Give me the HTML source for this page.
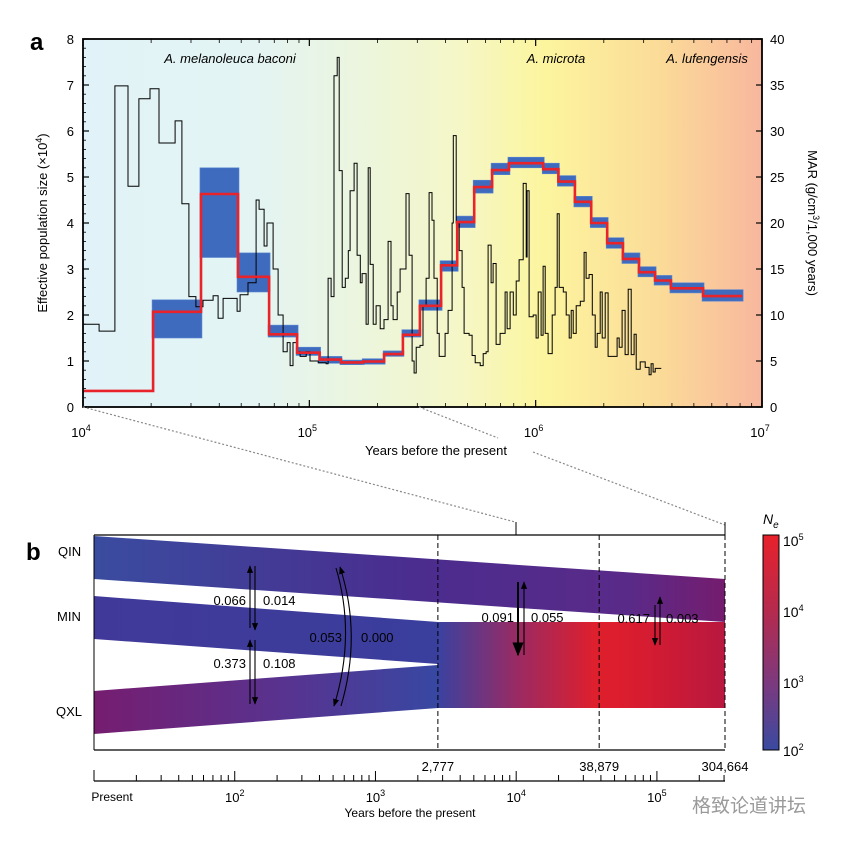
<!DOCTYPE html>
<html><head><meta charset="utf-8"><style>
html,body{margin:0;padding:0;background:#fff;}
svg text{font-family:"Liberation Sans","Noto Sans CJK SC",sans-serif;}
</style></head><body>
<svg id="fig" width="845" height="841" viewBox="0 0 845 841" xmlns="http://www.w3.org/2000/svg">
<defs>
<linearGradient id="bgGrad" x1="0" x2="1" y1="0" y2="0">
<stop offset="0" stop-color="#e1f3f8"/><stop offset="0.25" stop-color="#e3f4f3"/>
<stop offset="0.38" stop-color="#eaf5e2"/><stop offset="0.55" stop-color="#f5f7c8"/>
<stop offset="0.68" stop-color="#fcf59e"/><stop offset="0.85" stop-color="#fbdb98"/>
<stop offset="1" stop-color="#f8b79e"/></linearGradient>
<linearGradient id="qinGrad" x1="0" x2="1"><stop offset="0" stop-color="#3a4c9f"/><stop offset="0.5" stop-color="#4a2d8f"/><stop offset="0.85" stop-color="#5a2a88"/><stop offset="1" stop-color="#751c6e"/></linearGradient>
<linearGradient id="minGrad" x1="0" x2="1"><stop offset="0" stop-color="#41399a"/><stop offset="1" stop-color="#3a3e9c"/></linearGradient>
<linearGradient id="qxlGrad" x1="0" x2="1"><stop offset="0" stop-color="#761d70"/><stop offset="0.6" stop-color="#553592"/><stop offset="1" stop-color="#3748a2"/></linearGradient>
<linearGradient id="mergeGrad" x1="0" x2="1"><stop offset="0" stop-color="#3a42a0"/><stop offset="0.28" stop-color="#9b2a62"/><stop offset="0.55" stop-color="#df1f2c"/><stop offset="0.7" stop-color="#d81c30"/><stop offset="1" stop-color="#b8183f"/></linearGradient>
<linearGradient id="cbGrad" x1="0" x2="0" y1="0" y2="1"><stop offset="0" stop-color="#e8212b"/><stop offset="0.35" stop-color="#b62a4d"/><stop offset="0.7" stop-color="#7a3a80"/><stop offset="1" stop-color="#3a4aa0"/></linearGradient>
<marker id="ah" viewBox="0 0 10 10" refX="9" refY="5" markerWidth="7" markerHeight="7" orient="auto-start-reverse"><path d="M0,1 L10,5 L0,9 z" fill="#000"/></marker>
</defs>

<!-- Panel a -->
<rect x="83" y="39" width="679" height="368" fill="url(#bgGrad)"/>
<g id="bandG"></g>
<path id="marLine" fill="none" stroke="#000" stroke-width="1"/>
<path id="neLine" fill="none" stroke="#e8232a" stroke-width="2.6"/>
<rect x="83" y="39" width="679" height="368" fill="none" stroke="#000" stroke-width="1.8"/>
<g id="axesA"></g>

<text x="30" y="50" font-size="24" font-weight="bold">a</text>
<text x="230" y="63" font-size="13" font-style="italic" text-anchor="middle">A. melanoleuca baconi</text>
<text x="556" y="63" font-size="13" font-style="italic" text-anchor="middle">A. microta</text>
<text x="707" y="63" font-size="13" font-style="italic" text-anchor="middle">A. lufengensis</text>
<text transform="translate(47,223) rotate(-90)" font-size="13" text-anchor="middle">Effective population size (×10<tspan font-size="9" dy="-5">4</tspan><tspan dy="5">)</tspan></text>
<text transform="translate(808,223) rotate(90)" font-size="13" text-anchor="middle">MAR (g/cm<tspan font-size="9" dy="-5">3</tspan><tspan dy="5">/1,000 years)</tspan></text>
<text x="436" y="455" font-size="13" text-anchor="middle">Years before the present</text>

<line x1="83" y1="407" x2="515" y2="522" stroke="#888" stroke-width="1.2" stroke-dasharray="2,2"/>
<line x1="419" y1="407" x2="498" y2="438" stroke="#888" stroke-width="1.2" stroke-dasharray="2,2"/>
<line x1="533" y1="452" x2="725" y2="525" stroke="#888" stroke-width="1.2" stroke-dasharray="2,2"/>

<!-- Panel b -->
<text x="26" y="560" font-size="24" font-weight="bold">b</text>
<polygon points="94,536 725,579 725,622 94,579" fill="url(#qinGrad)"/>
<polygon points="94,596 438,622 438,664 94,639" fill="url(#minGrad)"/>
<polygon points="94,691 438,665 438,708 94,734" fill="url(#qxlGrad)"/>
<rect x="438" y="622" width="287" height="86" fill="url(#mergeGrad)"/>
<line x1="94" y1="535" x2="725" y2="535" stroke="#000" stroke-width="1.3"/>
<line x1="94" y1="750" x2="725" y2="750" stroke="#000" stroke-width="1.3"/>
<line x1="94" y1="535" x2="94" y2="750" stroke="#000" stroke-width="1"/>
<line x1="516" y1="522" x2="516" y2="535" stroke="#000" stroke-width="1"/>
<line x1="725" y1="522" x2="725" y2="535" stroke="#000" stroke-width="1"/>
<g id="splitG"></g>
<text x="58" y="556" font-size="13">QIN</text>
<text x="57" y="621" font-size="13">MIN</text>
<text x="56" y="716" font-size="13">QXL</text>

<g stroke="#000" stroke-width="1.1" fill="none">
<line x1="250" y1="628" x2="250" y2="566" marker-end="url(#ah)"/><line x1="255" y1="566" x2="255" y2="630" marker-end="url(#ah)"/>
<line x1="250" y1="704" x2="250" y2="640" marker-end="url(#ah)"/><line x1="255" y1="640" x2="255" y2="704" marker-end="url(#ah)"/>
<path d="M336,568 Q356,635 334,706" marker-end="url(#ah)"/><path d="M341,706 Q362,635 340,567" marker-end="url(#ah)"/>
<line x1="518" y1="582" x2="518" y2="655" stroke-width="2" marker-end="url(#ah)"/><line x1="524" y1="655" x2="524" y2="582" marker-end="url(#ah)"/>
<line x1="655" y1="605" x2="655" y2="645" marker-end="url(#ah)"/><line x1="660" y1="645" x2="660" y2="597" marker-end="url(#ah)"/>
</g>
<g font-size="13">
<text x="246" y="605" text-anchor="end">0.066</text><text x="263" y="605">0.014</text>
<text x="246" y="668" text-anchor="end">0.373</text><text x="263" y="668">0.108</text>
<text x="342" y="642" text-anchor="end">0.053</text><text x="361" y="642">0.000</text>
<text x="514" y="622" text-anchor="end">0.091</text><text x="531" y="622">0.055</text>
<text x="650" y="623" text-anchor="end">0.617</text><text x="666" y="623">0.003</text>
</g>
<g id="axesB"></g>
<text x="410" y="817" font-size="12" text-anchor="middle">Years before the present</text>

<rect x="763" y="535" width="16" height="215" fill="url(#cbGrad)" stroke="#000" stroke-width="1"/>
<text x="763" y="524" font-size="14" font-style="italic">N<tspan font-size="10" dy="4">e</tspan></text>
<g font-size="14">
<text x="783" y="546">10<tspan font-size="9" dy="-6">5</tspan></text>
<text x="783" y="617">10<tspan font-size="9" dy="-6">4</tspan></text>
<text x="783" y="688">10<tspan font-size="9" dy="-6">3</tspan></text>
<text x="783" y="756">10<tspan font-size="9" dy="-6">2</tspan></text>
</g>
<text x="692" y="812" font-size="19" fill="#9a9a9a">格致论道讲坛</text>
</svg>
<script>
// ---- Panel a data ----
const neStartYears = [1e4,20400,33200,48400,66400,88300,111000,138000,173000,214000,259000,308000,382000,450000,535000,642000,762000,1.08e6,1.26e6,1.49e6,1.76e6,2.07e6,2.43e6,2.86e6,3.37e6,3.96e6,5.49e6];
const neEndYear = 8.17e6;
const neValues = [0.35,2.07,4.63,2.83,1.58,1.18,1.03,0.97,0.99,1.15,1.57,2.2,3.08,4.02,4.78,5.15,5.3,5.17,4.9,4.46,4.0,3.56,3.22,2.93,2.75,2.58,2.41];
const neBandLo = [0.35,1.5,3.25,2.5,1.52,1.12,0.95,0.92,0.93,1.1,1.52,2.1,2.95,3.9,4.65,5.05,5.2,5.07,4.8,4.35,3.9,3.45,3.12,2.83,2.65,2.48,2.3];
const neBandHi = [0.35,2.33,5.2,3.35,1.78,1.3,1.1,1.02,1.05,1.22,1.68,2.33,3.18,4.15,4.93,5.3,5.43,5.3,5.03,4.58,4.12,3.68,3.35,3.05,2.86,2.7,2.55];
const marLogYears = [4.000,4.071,4.141,4.199,4.247,4.296,4.336,4.407,4.437,4.468,4.499,4.530,4.575,4.597,4.619,4.681,4.694,4.729,4.765,4.778,4.800,4.813,4.840,4.862,4.884,4.902,4.915,4.928,4.946,4.959,4.986,5.003,5.039,5.074,5.083,5.096,5.109,5.123,5.132,5.145,5.159,5.172,5.180,5.198,5.211,5.225,5.233,5.251,5.260,5.269,5.282,5.295,5.313,5.330,5.348,5.361,5.370,5.388,5.401,5.427,5.441,5.454,5.463,5.472,5.489,5.502,5.516,5.529,5.542,5.551,5.565,5.574,5.600,5.613,5.631,5.636,5.649,5.662,5.675,5.684,5.706,5.719,5.733,5.755,5.768,5.781,5.790,5.803,5.812,5.825,5.843,5.865,5.874,5.887,5.901,5.914,5.927,5.945,5.958,5.962,5.971,5.989,6.002,6.011,6.024,6.033,6.042,6.055,6.073,6.086,6.095,6.104,6.122,6.135,6.148,6.157,6.166,6.179,6.197,6.214,6.223,6.236,6.250,6.263,6.272,6.285,6.294,6.307,6.320,6.360,6.369,6.382,6.395,6.409,6.422,6.435,6.444,6.462,6.484,6.501,6.510,6.519,6.528];
const marValues = [9,8.25,34.9,24,33.5,34.6,28.7,31.1,22.1,12,10.9,11.6,12.1,9.65,11.8,10.4,12.2,13.5,22.5,21.5,17.5,20,15,10,6,7,4.5,7,6,5.5,6,5,4.8,4.7,14,12,36,38,25.7,13,14,17,23.5,26.5,16.5,13.5,14.5,9,26,15.5,9,11,8.5,9.5,18,11,9.5,12.5,15,23.2,16.5,5,3.7,6.5,6.7,11,14,23.3,20.3,14,8,5.5,8,10.5,20,29.5,20,17,13,8,7.8,5.6,4.8,4.5,5.8,6,17.6,13.5,15.6,6.8,8,12.5,8.5,12.5,10,13.7,16,24.3,16.3,23.5,9.8,10,7.5,12.5,7.8,15.3,8,5.8,10,13,21,13,12.5,10,7.5,10.5,8,11,11.5,16.8,14,14.4,10,6.5,8,12.5,7.5,12.4,5.5,7.5,6.5,10.5,5.7,12.8,5.7,7.9,4.1,4.9,4.3,3.5,4.7,3.8,4.2];
const marEndLogYear = 6.555;
const leftTicks = [0,1,2,3,4,5,6,7,8];
const rightTicks = [0,5,10,15,20,25,30,35,40];
const xDecadesA = [4,5,6,7];
// ---- Panel b data ----
const splitYears = [2777,38879,304664];
const splitLabels = ["2,777","38,879","304,664"];
const xDecadesB = [2,3,4,5];

const NS="http://www.w3.org/2000/svg";
function mk(tag,attrs,parent){const e=document.createElementNS(NS,tag);for(const k in attrs)e.setAttribute(k,attrs[k]);parent.appendChild(e);return e;}
const xA = ly => 83 + (ly-4)*679/3;
const xAy = y => xA(Math.log10(y));
const yNe = v => 407 - v*46;
const yMar = v => 407 - v*368/40;
const xB = y => 94 + (Math.log10(y)-1)*(725-94)/(Math.log10(304664)-1);

// band
const bandG=document.getElementById('bandG');
neValues.forEach((v,i)=>{
  const x0=xAy(neStartYears[i]), x1=xAy(i+1<neStartYears.length?neStartYears[i+1]:neEndYear);
  if(neBandHi[i]-neBandLo[i]<0.01) return;
  const r=mk('rect',{x:x0-1,y:yNe(neBandHi[i]),width:x1-x0+2,height:yNe(neBandLo[i])-yNe(neBandHi[i]),fill:'#3f6bbf',stroke:'#5a86d0','stroke-width':0.6},bandG);
  
  
});
// red line
let d='';
neValues.forEach((v,i)=>{
  const x0=xAy(neStartYears[i]), x1=xAy(i+1<neStartYears.length?neStartYears[i+1]:neEndYear);
  d+=(i===0?'M':'L')+x0.toFixed(1)+','+yNe(v).toFixed(1)+' L'+x1.toFixed(1)+','+yNe(v).toFixed(1)+' ';
});
document.getElementById('neLine').setAttribute('d',d);
// MAR line
let m='';
marValues.forEach((v,i)=>{
  const x0=xA(marLogYears[i]), x1=xA(i+1<marLogYears.length?marLogYears[i+1]:marEndLogYear);
  m+=(i===0?'M':'L')+x0.toFixed(1)+','+yMar(v).toFixed(1)+' L'+x1.toFixed(1)+','+yMar(v).toFixed(1)+' ';
});
document.getElementById('marLine').setAttribute('d',m);

// axes a
const ax=document.getElementById('axesA');
leftTicks.forEach(t=>{
  const y=yNe(t);
  const l=mk('line',{x1:83,x2:89,y1:y,y2:y,stroke:'#000','stroke-width':1.2},ax);
  
  
  const tx=mk('text',{x:74,y:y+5,'font-size':13,'text-anchor':'end'},ax);tx.textContent=t;
  
  
  if(t<8) for(let k=1;k<5;k++){mk('line',{x1:83,x2:86,y1:yNe(t+k*0.2),y2:yNe(t+k*0.2),stroke:'#000','stroke-width':0.8},ax);}
});
rightTicks.forEach(t=>{
  const y=yMar(t);
  const l=mk('line',{x1:756,x2:762,y1:y,y2:y,stroke:'#000','stroke-width':1.2},ax);
  
  
  const tx=mk('text',{x:770,y:y+5,'font-size':13},ax);tx.textContent=t;
  
  
});
xDecadesA.forEach(dd=>{
  const x=xA(dd);
  mk('line',{x1:x,x2:x,y1:407,y2:400,stroke:'#000','stroke-width':1.2},ax);
  mk('line',{x1:x,x2:x,y1:39,y2:46,stroke:'#000','stroke-width':1.2},ax);
  const tx=mk('text',{x:x-2,y:437,'font-size':13,'text-anchor':'middle'},ax);
  
  
  tx.innerHTML='10<tspan font-size="9" dy="-6">'+dd+'</tspan>';
  if(dd<7) for(let k=2;k<10;k++){const xm=xA(dd+Math.log10(k));
    mk('line',{x1:xm,x2:xm,y1:407,y2:403,stroke:'#000','stroke-width':0.8},ax);
    mk('line',{x1:xm,x2:xm,y1:39,y2:43,stroke:'#000','stroke-width':0.8},ax);}
});

// panel b splits
const sg=document.getElementById('splitG');
splitYears.forEach((s,i)=>{
  const x=xB(s);
  const l=mk('line',{x1:x,x2:x,y1:535,y2:750,stroke:'#000','stroke-width':1,'stroke-dasharray':'5,3'},sg);
  
  
  const tx=mk('text',{x:x,y:771,'font-size':13,'text-anchor':'middle'},sg);tx.textContent=splitLabels[i];
  
  
});
// axes b
const bx=document.getElementById('axesB');
mk('line',{x1:94,x2:725,y1:781,y2:781,stroke:'#000','stroke-width':1.2},bx);
mk('line',{x1:94,x2:94,y1:781,y2:770,stroke:'#000','stroke-width':1},bx);
const pt=mk('text',{x:112,y:801,'font-size':12,'text-anchor':'middle'},bx);pt.textContent='Present';


for(let dd=1;dd<=5;dd++){
  for(let k=1;k<10;k++){const y=k*Math.pow(10,dd); if(y>304664) break; if(dd===1&&k===1) continue;
    const x=xB(y); mk('line',{x1:x,x2:x,y1:781,y2:k===1?771:775,stroke:'#000','stroke-width':1},bx);}
}
xDecadesB.forEach(dd=>{
  const x=xB(Math.pow(10,dd));
  const tx=mk('text',{x:x,y:802,'font-size':13,'text-anchor':'middle'},bx);
  
  
  tx.innerHTML='10<tspan font-size="9" dy="-6">'+dd+'</tspan>';
});
</script>
</body></html>
